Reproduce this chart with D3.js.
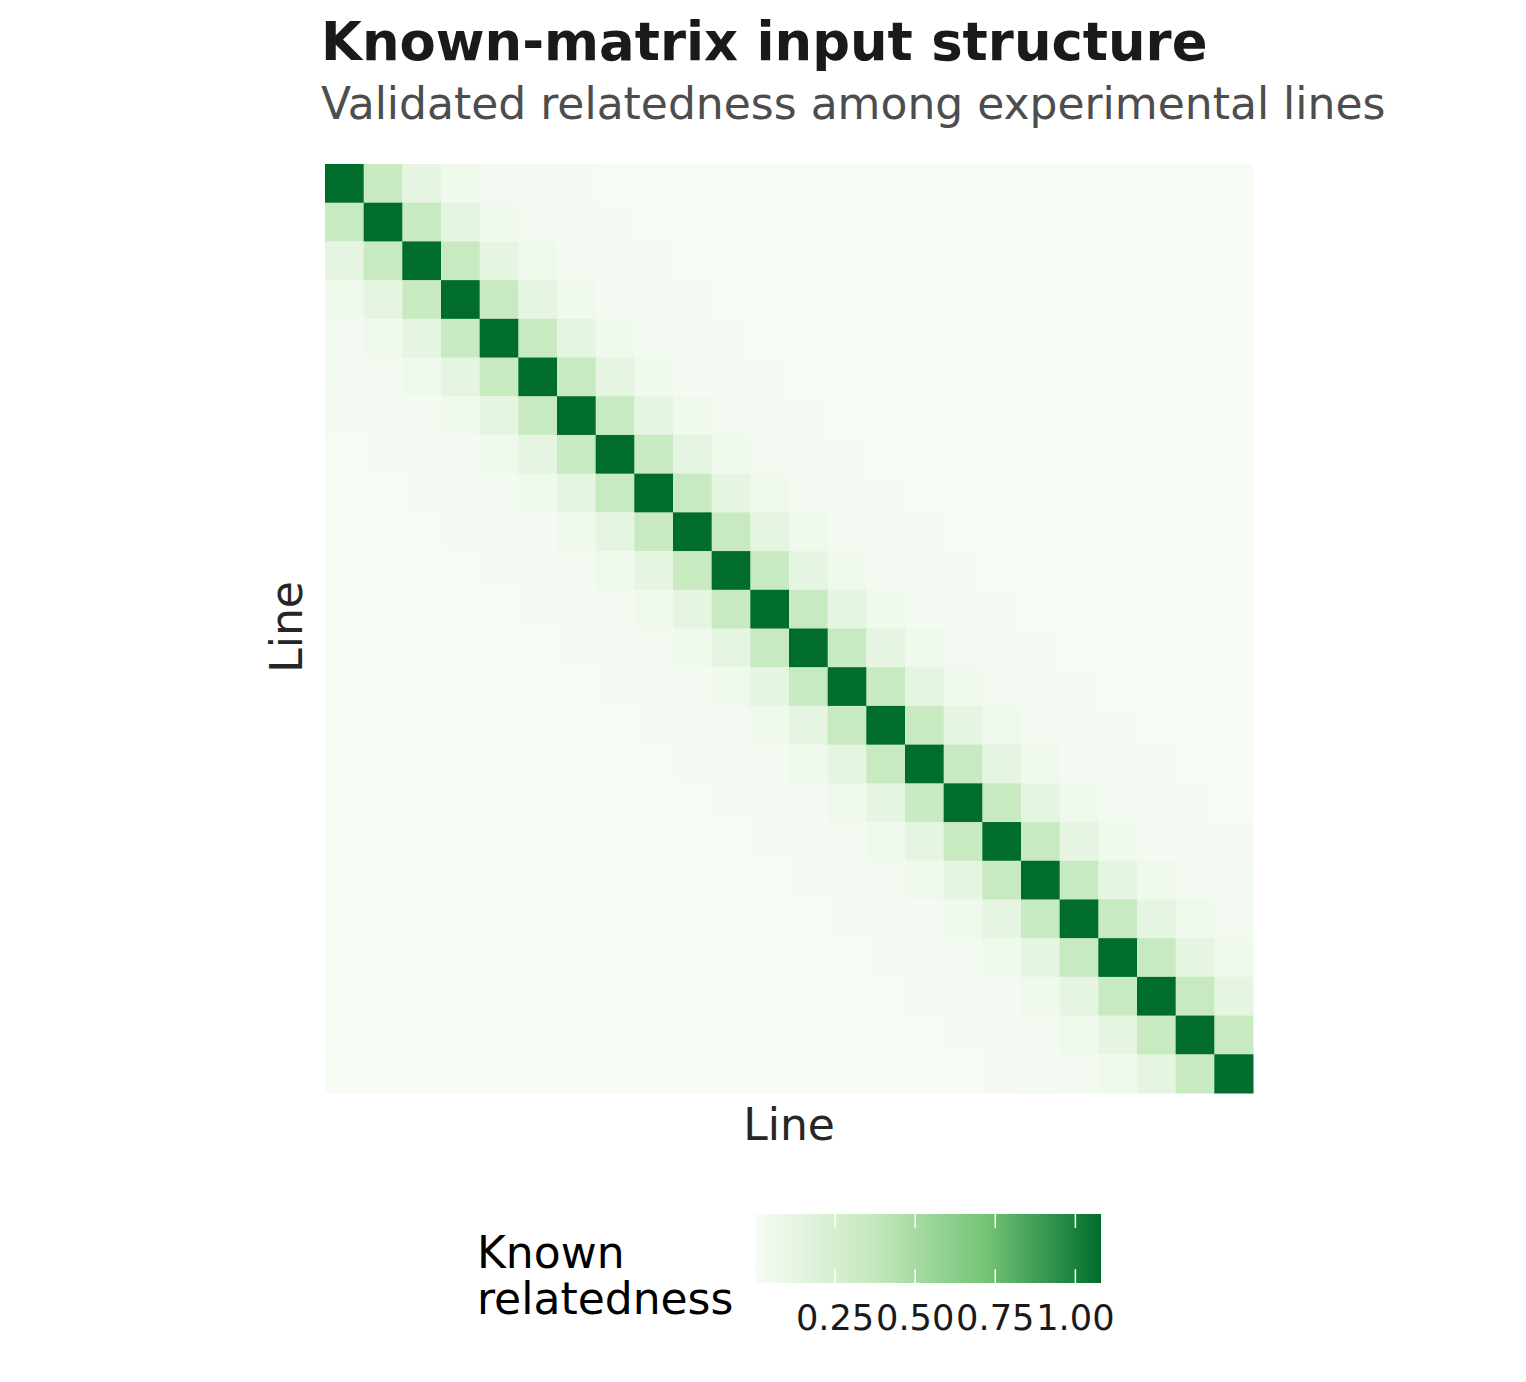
<!DOCTYPE html>
<html>
<head>
<meta charset="utf-8">
<script src="https://cdn.jsdelivr.net/npm/d3@7"></script>
<style>
body { margin: 0; background: #fff; }
text { font-family: "DejaVu Sans", sans-serif; }
</style>
</head>
<body>
<div id="chart"></div>
<script>
var width = 1526;
var height = 1382;

// experimental lines (axis labels are hidden in the original)
var lines = ["L01", "L02", "L03", "L04", "L05", "L06", "L07", "L08",
	"L09", "L10", "L11", "L12", "L13", "L14", "L15", "L16",
	"L17", "L18", "L19", "L20", "L21", "L22", "L23", "L24"];

// known relatedness by distance from the diagonal
var offsetRelatedness = [1.08, 0.35, 0.13, 0.06, 0.03, 0.02, 0.014, 0.01,
	0.009, 0.009, 0.009, 0.009, 0.009, 0.009, 0.009, 0.009,
	0.009, 0.009, 0.009, 0.009, 0.009, 0.009, 0.009, 0.009];

var legendTicks = [0.25, 0.5, 0.75, 1.0];

var cells = [];
lines.forEach(function(row, i){
	lines.forEach(function(col, j){
		cells.push({row: row, col: col, value: offsetRelatedness[Math.abs(i - j)]});
	});
});

var maxVal = d3.max(cells, function(d){ return d.value; });

var color = d3.scaleLinear()
	.domain([0, maxVal / 3, maxVal * 2 / 3, maxVal])
	.range(["#f7fcf5", "#c7e9c0", "#74c476", "#006d2c"]);

var svg = d3.select("#chart")
	.append("svg")
	.attr("width", width)
	.attr("height", height);

var x = d3.scaleBand().domain(lines).range([325, 1253]);
var y = d3.scaleBand().domain(lines).range([164, 1093]);

svg.append("g")
	.selectAll("rect")
	.data(cells)
	.enter()
	.append("rect")
	.attr("x", function(d){ return x(d.col); })
	.attr("y", function(d){ return y(d.row); })
	.attr("width", x.bandwidth() + 0.5)
	.attr("height", y.bandwidth() + 0.5)
	.attr("fill", function(d){ return color(d.value); });

// titles
svg.append("text")
	.attr("x", 321).attr("y", 60)
	.attr("font-size", 52.8).attr("font-weight", "bold")
	.attr("fill", "#1a1a1a")
	.text("Known-matrix input structure");

svg.append("text")
	.attr("x", 321).attr("y", 119)
	.attr("font-size", 44)
	.attr("fill", "#4d4d4d")
	.text("Validated relatedness among experimental lines");

svg.append("text")
	.attr("x", 789).attr("y", 1140)
	.attr("text-anchor", "middle")
	.attr("font-size", 44).attr("fill", "#262626")
	.text("Line");

svg.append("text")
	.attr("transform", "translate(302,627) rotate(-90)")
	.attr("text-anchor", "middle")
	.attr("font-size", 44).attr("fill", "#262626")
	.text("Line");

// legend
var legX = d3.scaleLinear().domain([0, maxVal]).range([755, 1101]);
var barTop = 1214, barH = 69;

var grad = svg.append("defs").append("linearGradient")
	.attr("id", "leg")
	.attr("x1", "0%").attr("x2", "100%");
grad.selectAll("stop")
	.data(color.domain())
	.enter()
	.append("stop")
	.attr("offset", function(d){ return (d / maxVal * 100) + "%"; })
	.attr("stop-color", function(d){ return color(d); });

svg.append("rect")
	.attr("x", legX(0)).attr("y", barTop)
	.attr("width", legX(maxVal) - legX(0)).attr("height", barH)
	.attr("fill", "url(#leg)");

var tickG = svg.append("g").selectAll("g")
	.data(legendTicks)
	.enter()
	.append("g");

tickG.append("line")
	.attr("x1", function(d){ return legX(d); }).attr("x2", function(d){ return legX(d); })
	.attr("y1", barTop).attr("y2", barTop + barH / 5)
	.attr("stroke", "#fff").attr("stroke-width", 1.5);
tickG.append("line")
	.attr("x1", function(d){ return legX(d); }).attr("x2", function(d){ return legX(d); })
	.attr("y1", barTop + barH * 4 / 5).attr("y2", barTop + barH)
	.attr("stroke", "#fff").attr("stroke-width", 1.5);
tickG.append("text")
	.attr("x", function(d){ return legX(d); })
	.attr("y", 1330)
	.attr("text-anchor", "middle")
	.attr("font-size", 35.2).attr("fill", "#1a1a1a")
	.text(d3.format(".2f"));

var legTitle = svg.append("text")
	.attr("font-size", 44).attr("fill", "#000");
legTitle.append("tspan").attr("x", 477).attr("y", 1268).text("Known");
legTitle.append("tspan").attr("x", 477).attr("y", 1314).text("relatedness");
</script>
</body>
</html>
